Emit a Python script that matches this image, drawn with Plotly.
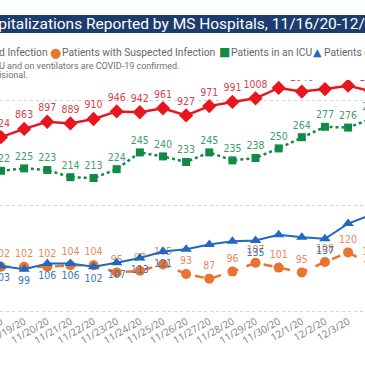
import plotly.graph_objects as go

# ---------------- data ----------------
dates = ["11/18/20", "11/19/20", "11/20/20", "11/21/20", "11/22/20", "11/23/20",
         "11/24/20", "11/25/20", "11/26/20", "11/27/20", "11/28/20", "11/29/20",
         "11/30/20", "12/1/20", "12/2/20", "12/3/20", "12/4/20"]
confirmed = [824, 863, 897, 889, 910, 946, 942, 961, 927, 971, 991, 1008,
             1057, 1040, 1052, 1068, 1041]
suspected = [102, 102, 102, 104, 104, 95, 97, 105, 93, 87, 96, 107,
             101, 95, 108, 120, 105]
icu = [222, 225, 223, 214, 213, 224, 245, 240, 233, 245, 235, 238,
       250, 264, 277, 276, 287]
ventilators = [103, 99, 106, 106, 102, 107, 113, 121, 124, 130, 134, 135,
               142, 139, 137, 156, 167]
# labels that the original chart shows for the ventilator series (1 = shown)
ventilator_label_shown = [1, 1, 1, 1, 1, 1, 1, 1, 0, 0, 0, 1, 0, 0, 1, 0, 0]

title_text = "COVID-19 Hospitalizations Reported by MS Hospitals, 11/16/20-12/6/20"
legend_names = ["Patients with Confirmed Infection", "Patients with Suspected Infection",
                "Patients in an ICU", "Patients on Ventilators"]
note_line1 = "Patients in an ICU and on ventilators are COVID-19 confirmed."
note_line2 = "Data are provisional."

# ---------------- styling ----------------
RED, RED_T = "#E8161E", "#D9414A"
GREEN, GREEN_T = "#118A45", "#3E9C68"
ORANGE, ORANGE_T = "#E8742F", "#E58A5C"
BLUE, BLUE_T = "#1F69C2", "#3A78C0"
NUM_FONT = "Liberation Sans Narrow, DejaVu Sans Condensed, Roboto, sans-serif"
TXT_FONT = "Roboto, Open Sans, sans-serif"

W = H = 365
PLOT_TOP, PLOT_BOTTOM = 80, 313
Y2_ZERO_PX = 311          # pixel row of the red axis' zero (bottom grid line)


def px(x):
    return x / W


def py(y):
    return (PLOT_BOTTOM - y) / (PLOT_BOTTOM - PLOT_TOP)


fig = go.Figure()

fig.add_trace(go.Scatter(
    x=dates, y=suspected, mode="lines+markers+text", name=legend_names[1],
    line=dict(color=ORANGE, width=2.5, dash="dash"),
    marker=dict(symbol="circle", size=10, color=ORANGE),
    text=[str(v) for v in suspected], textposition="top center",
    textfont=dict(family=NUM_FONT, size=10.5, color=ORANGE_T),
    showlegend=False, yaxis="y"))

fig.add_trace(go.Scatter(
    x=dates, y=ventilators, mode="lines+markers+text", name=legend_names[3],
    line=dict(color=BLUE, width=2),
    marker=dict(symbol="triangle-up", size=10, color=BLUE),
    text=[str(v) if s else "" for v, s in zip(ventilators, ventilator_label_shown)],
    textposition="bottom center",
    textfont=dict(family=NUM_FONT, size=10.5, color=BLUE_T),
    showlegend=False, yaxis="y"))

fig.add_trace(go.Scatter(
    x=dates, y=icu, mode="lines+markers+text", name=legend_names[2],
    line=dict(color=GREEN, width=2.5, dash="dot"),
    marker=dict(symbol="square", size=8, color=GREEN),
    text=[str(v) for v in icu], textposition="top center",
    textfont=dict(family=NUM_FONT, size=10.5, color=GREEN_T),
    showlegend=False, yaxis="y"))

fig.add_trace(go.Scatter(
    x=dates, y=confirmed, mode="lines+markers+text", name=legend_names[0],
    line=dict(color=RED, width=2.5),
    marker=dict(symbol="diamond", size=11, color=RED),
    text=[str(v) for v in confirmed], textposition="top center",
    textfont=dict(family=NUM_FONT, size=10.5, color=RED_T),
    showlegend=False, yaxis="y2"))

# axis ranges chosen so that the visible window matches the cropped original
x_per_px = 1 / 23.14
xrange = [-1 * x_per_px, (W - 1) * x_per_px]
y_zero_px, y_scale = 348.4, 0.8          # green / orange / blue axis
y2_scale = 0.211                         # red axis px per unit
yrange = [(y_zero_px - PLOT_BOTTOM) / y_scale, (y_zero_px - PLOT_TOP) / y_scale]
y2range = [(Y2_ZERO_PX - PLOT_BOTTOM) / y2_scale, (Y2_ZERO_PX - PLOT_TOP) / y2_scale]

fig.update_layout(
    width=W, height=H,
    margin=dict(l=0, r=0, t=PLOT_TOP, b=H - PLOT_BOTTOM, pad=0, autoexpand=False),
    paper_bgcolor="white", plot_bgcolor="white",
    showlegend=False,
    xaxis=dict(type="category", range=xrange, showgrid=False, zeroline=False,
               showline=False, ticks="", tickangle=-30, automargin=False,
               tickfont=dict(family="Open Sans, sans-serif", size=10, color="#808080")),
    yaxis=dict(range=yrange, showgrid=False, zeroline=False, showticklabels=False,
               showline=False),
    yaxis2=dict(range=y2range, overlaying="y", side="right", showgrid=True,
                gridcolor="#D3D3D3", griddash="dot", gridwidth=1,
                tickvals=[0, 500, 1000], showticklabels=False, zeroline=False,
                showline=False),
)

# title banner
fig.add_shape(type="rect", xref="paper", yref="paper", x0=0, x1=1,
              y0=py(33), y1=py(15), fillcolor="#1D3C6E", line_width=0, layer="below")
fig.add_annotation(xref="paper", yref="paper", x=px(-102.5), y=py(24), xanchor="left",
                   yanchor="middle", showarrow=False, text=title_text,
                   font=dict(family="Roboto, sans-serif", size=15.5, color="white"))

# legend row
LEG_Y = 52
fig.add_annotation(xref="paper", yref="paper", x=px(49.5), y=py(LEG_Y), xanchor="right",
                   yanchor="middle", showarrow=False, text=legend_names[0],
                   font=dict(family=TXT_FONT, size=10.3, color="#666666"))
for name, glyph, col, gx, tx, gsize in [
        (legend_names[1], "●", ORANGE, 55.5, 60, 13),
        (legend_names[2], "■", GREEN, 224.5, 229, 12),
        (legend_names[3], "▲", BLUE, 317, 322, 11)]:
    fig.add_annotation(xref="paper", yref="paper", x=px(gx), y=py(LEG_Y), xanchor="center",
                       yanchor="middle", showarrow=False, text=glyph,
                       font=dict(family="DejaVu Sans", size=gsize, color=col))
    fig.add_annotation(xref="paper", yref="paper", x=px(tx), y=py(LEG_Y), xanchor="left",
                       yanchor="middle", showarrow=False, text=name,
                       font=dict(family=TXT_FONT, size=10.3, color="#666666"))

# notes
fig.add_annotation(xref="paper", yref="paper", x=px(181), y=py(66), xanchor="right",
                   yanchor="middle", showarrow=False, text=note_line1,
                   font=dict(family=TXT_FONT, size=9, color="#707070"))
fig.add_annotation(xref="paper", yref="paper", x=px(29.5), y=py(75), xanchor="right",
                   yanchor="middle", showarrow=False, text=note_line2,
                   font=dict(family=TXT_FONT, size=9, color="#707070"))

fig.write_html("out.html", config={"displayModeBar": False, "staticPlot": True},
               post_script="document.body.style.margin='0';")
